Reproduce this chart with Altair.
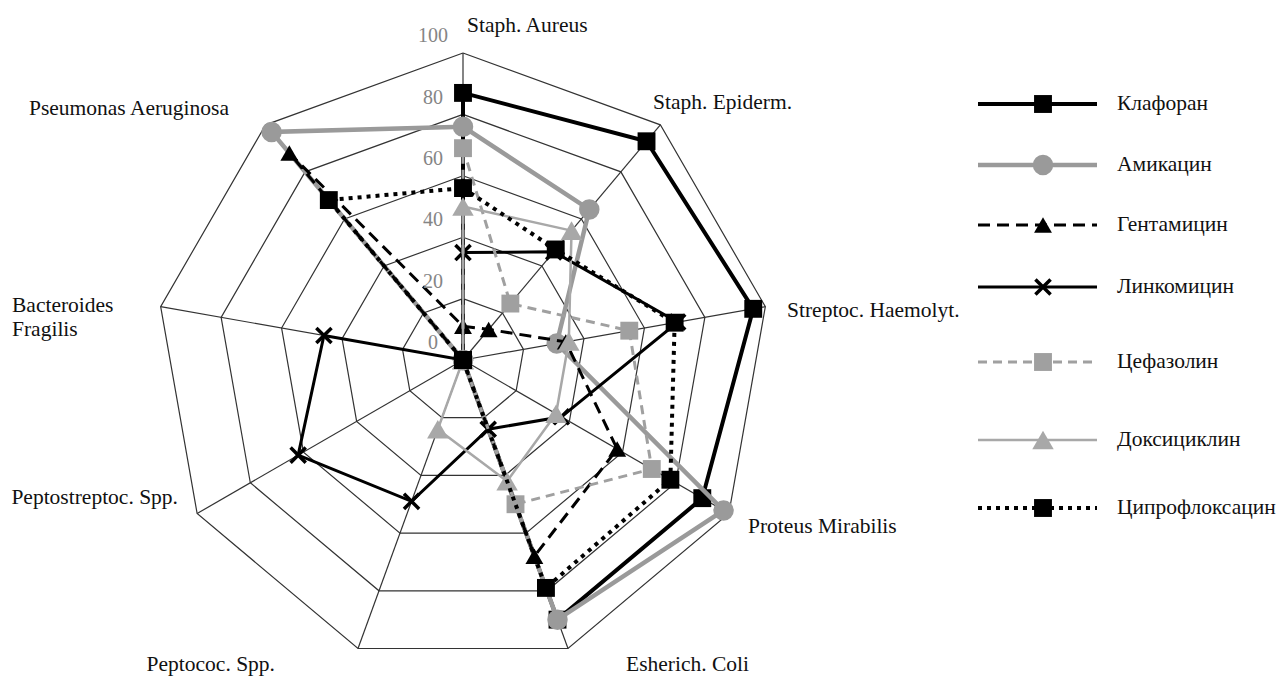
import altair as alt
import pandas as pd

# ---------------- data ----------------
categories = ["Staph. Aureus", "Staph. Epiderm.", "Streptoc. Haemolyt.", "Proteus Mirabilis",
              "Esherich. Coli", "Peptococ. Spp.", "Peptostreptoc. Spp.", "Bacteroides\nFragilis",
              "Pseumonas Aeruginosa"]
drugs = ["Клафоран", "Амикацин", "Гентамицин", "Линкомицин", "Цефазолин", "Доксициклин", "Ципрофлоксацин"]

klaforan = [87, 93, 96, 90, 90, 0, 0, 0, 0]
amikacin = [76, 64, 31, 98, 90, 0, 0, 0, 97]
gentamicin = [11, 13, 34, 58, 68, 0, 0, 0, 88]
linkomicin = [35, 46, 71, 37, 24, 49, 62, 46, 0]
cefazolin = [69, 24, 55, 71, 50, 0, 0, 0, 0]
doxycycline = [50, 55, 35, 35, 42, 24, 0, 0, 0]
ciprofloxacin = [56, 47, 70, 78, 79, 0, 0, 0, 68]
series_values = [klaforan, amikacin, gentamicin, linkomicin, cefazolin, doxycycline, ciprofloxacin]

ring_levels = [20, 40, 60, 80, 100]
tick_values = [0, 20, 40, 60, 80, 100]
tick_labels = ["0", "20", "40", "60", "80", "100"]

# ---------------- layout (page pixels) ----------------
CX, CY, K = 463, 360, 3.07          # radar centre and px per unit
W, H = 1269, 672
X0 = -(CX - 8) / K
X1 = X0 + W / K
Y1 = (CY - 8) / K
Y0 = Y1 - H / K


def ux(px):
    return (px - CX) / K


def uy(py):
    return (CY - py) / K


STEP = 360 / len(categories)
xs = alt.Scale(domain=[X0, X1], nice=False, zero=False)
ys = alt.Scale(domain=[Y0, Y1], nice=False, zero=False)
POLAR = dict(x="datum.r * sin(datum.a * PI / 180)", y="datum.r * cos(datum.a * PI / 180)")
XE = alt.X("x:Q", scale=xs, axis=None)
YE = alt.Y("y:Q", scale=ys, axis=None)

FONT = "Liberation Serif"
LABEL_SIZE = 21.5

# styles per drug
X_PATH = "M-1,-1L1,1M-1,1L1,-1"
styles = [
    dict(color="#000000", width=4, dash=None, shape="square", size=320, filled=True),
    dict(color="#9a9a9a", width=4.5, dash=None, shape="circle", size=420, filled=True),
    dict(color="#000000", width=3, dash=[12, 7], shape="triangle-up", size=320, filled=True),
    dict(color="#000000", width=3, dash=None, shape=X_PATH, size=230, filled=False),
    dict(color="#a0a0a0", width=3, dash=[9, 6], shape="square", size=320, filled=True),
    dict(color="#a8a8a8", width=2.5, dash=None, shape="triangle-up", size=460, filled=True),
    dict(color="#000000", width=4, dash=[4, 5], shape="square", size=320, filled=True),
]

layers = []

# ---- grid rings ----
ring_rows = []
for lv in ring_levels:
    for k in range(len(categories) + 1):
        ring_rows.append(dict(level=lv, k=k, r=lv, a=(k % len(categories)) * STEP))
rings = alt.Chart(pd.DataFrame(ring_rows)).transform_calculate(**POLAR).mark_line(
    color="#333333", strokeWidth=1.2).encode(x=XE, y=YE, detail="level:N", order="k:Q")
layers.append(rings)

# ---- spokes ----
spoke_rows = []
for i in range(len(categories)):
    for r in [0, 100]:
        spoke_rows.append(dict(cat=i, r=r, a=i * STEP))
spokes = alt.Chart(pd.DataFrame(spoke_rows)).transform_calculate(**POLAR).mark_line(
    color="#333333", strokeWidth=1.2).encode(x=XE, y=YE, detail="cat:N")
layers.append(spokes)


def marker_kwargs(st):
    if st["filled"]:
        return dict(shape=st["shape"], size=st["size"], filled=True, color=st["color"], opacity=1)
    return dict(shape=st["shape"], size=st["size"], filled=False, color=st["color"],
                strokeWidth=3.5, opacity=1)


# ---- series ----
for name, vals, st in zip(drugs, series_values, styles):
    n = len(categories)
    rows = [dict(drug=name, k=k, r=vals[k % n], a=(k % n) * STEP) for k in range(n + 1)]
    df = pd.DataFrame(rows)
    lkw = dict(color=st["color"], strokeWidth=st["width"])
    if st["dash"]:
        lkw["strokeDash"] = st["dash"]
    line = alt.Chart(df).transform_calculate(**POLAR).mark_line(**lkw).encode(
        x=XE, y=YE, order="k:Q")
    layers.append(line)
    pts = alt.Chart(df[df.k < n]).transform_calculate(**POLAR).mark_point(
        **marker_kwargs(st)).encode(x=XE, y=YE)
    layers.append(pts)

# ---- category labels ----
label_anchor_px = [(467, 26, "left"), (653, 103, "left"), (787, 311, "left"), (748, 527, "left"),
                   (626, 665, "left"), (275, 665, "right"), (178, 498, "right"), (12, 306, "left"),
                   (229, 109, "right")]
for cat, (px, py, al) in zip(categories, label_anchor_px):
    t = alt.Chart(pd.DataFrame([dict(label=cat, x=ux(px), y=uy(py))])).mark_text(
        align=al, baseline="middle", font=FONT, fontSize=LABEL_SIZE, color="#111111",
        lineBreak="\n", lineHeight=24).encode(x=XE, y=YE, text="label:N")
    layers.append(t)

# ---- ring value labels ----
tick_df = pd.DataFrame(dict(label=tick_labels, r=tick_values))
ticks = alt.Chart(tick_df).transform_calculate(
    x=str(ux(433)), y="datum.r + 5.5").mark_text(
    align="center", baseline="middle", font=FONT, fontSize=20, color="#858585").encode(
    x=XE, y=YE, text="label:N")
layers.append(ticks)

# ---- legend ----
legend_row_px = [104, 165, 225, 287, 362, 440, 508]
for name, st, py in zip(drugs, styles, legend_row_px):
    ly = uy(py)
    rkw = dict(color=st["color"], strokeWidth=st["width"])
    if st["dash"]:
        rkw["strokeDash"] = st["dash"]
    seg = alt.Chart(pd.DataFrame([dict(x=ux(978), x2=ux(1097), y=ly)])).mark_rule(**rkw).encode(
        x=XE, x2="x2:Q", y=YE)
    layers.append(seg)
    mk = alt.Chart(pd.DataFrame([dict(x=ux(1043), y=ly)])).mark_point(
        **marker_kwargs(st)).encode(x=XE, y=YE)
    layers.append(mk)
    tx = alt.Chart(pd.DataFrame([dict(label=name, x=ux(1117), y=ly)])).mark_text(
        align="left", baseline="middle", font=FONT, fontSize=LABEL_SIZE, color="#111111").encode(
        x=XE, y=YE, text="label:N")
    layers.append(tx)

chart = alt.layer(*layers).properties(
    width=W, height=H, padding=0, autosize=alt.AutoSizeParams(type="none")
).configure_view(stroke=None)

chart.save("out.html", embed_options={"renderer": "svg", "actions": False})
